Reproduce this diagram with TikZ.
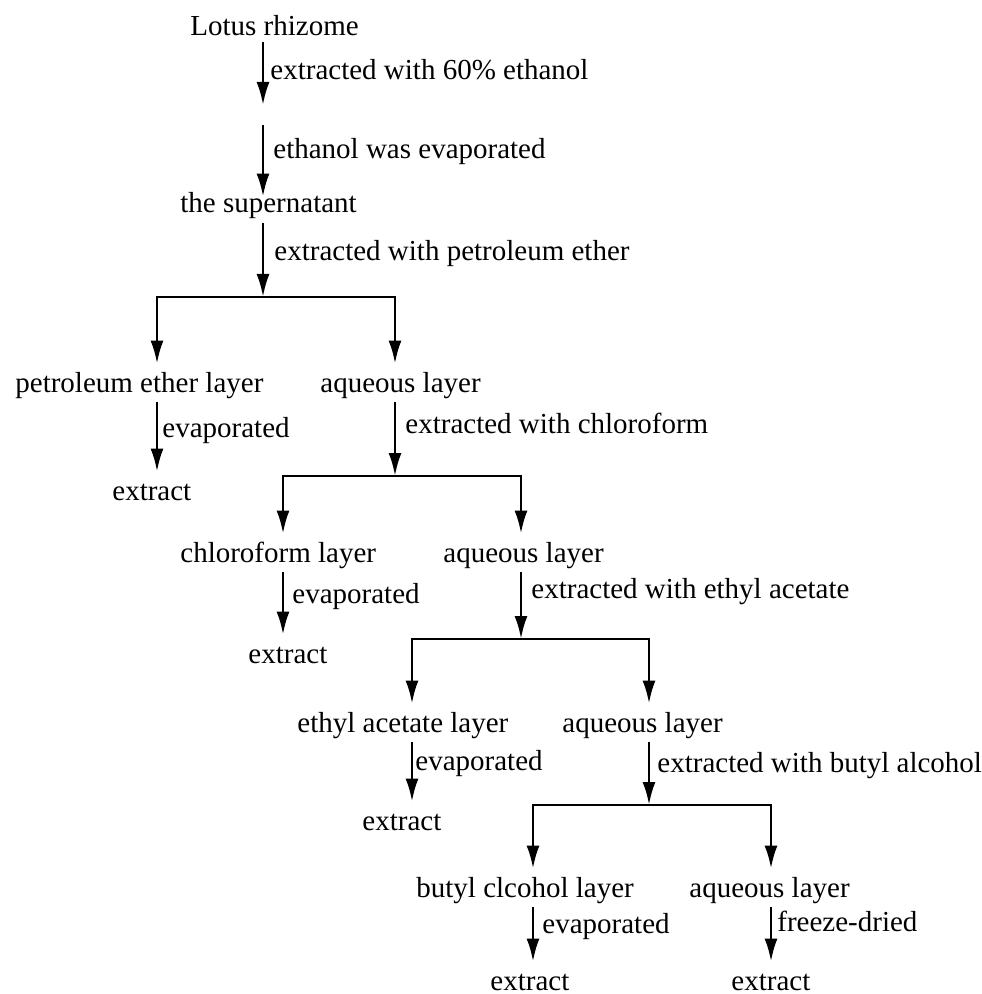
\documentclass[tikz,border=0pt]{standalone}
\usepackage{fontspec}
\setmainfont{Liberation Serif}
\usepackage{tikz}
\usetikzlibrary{positioning,arrows.meta,calc}

\begin{document}
\begin{tikzpicture}[x=0.5pt, y=-0.5pt,
   stage/.style={anchor=base west, inner xsep=0pt, inner ysep=0pt,
                 text height=14pt, text depth=5pt,
                 font=\fontsize{14.5pt}{17pt}\selectfont},
   op/.style={stage},
   flow/.style={draw, line width=1.35pt, -{Latex[length=11.5pt,width=6.5pt]}},
   >={Latex[length=11.5pt,width=6.5pt]}]
  \useasboundingbox (0,0) rectangle (981,994);
  % materials
  \node[stage] (lotus) at (190,36) {Lotus rhizome};
  \node[stage] (sup)   at (180,213) {the supernatant};
  \node[stage] (pel)   at (15,392)  {petroleum ether layer};
  \node[stage] (aq1)   at (320,392) {aqueous layer};
  \node[stage] (ext1)  at (112,500) {extract};
  \node[stage] (chl)   at (180,562) {chloroform layer};
  \node[stage] (aq2)   at (443,562) {aqueous layer};
  \node[stage] (ext2)  at (248,663) {extract};
  \node[stage] (eth)   at (297,732) {ethyl acetate layer};
  \node[stage] (aq3)   at (562,732) {aqueous layer};
  \node[stage] (ext3)  at (362,830) {extract};
  \node[stage] (but)   at (416,897) {butyl clcohol layer};
  \node[stage] (aq4)   at (689,897) {aqueous layer};
  \node[stage] (ext4)  at (490,990) {extract};
  \node[stage] (ext5)  at (731,990) {extract};
  % operations
  \node[op] (op1)  at (270,80)  {extracted with 60\% ethanol};
  \node[op] (op2)  at (273,159) {ethanol was evaporated};
  \node[op] (op3)  at (274,261) {extracted with petroleum ether};
  \node[op] (op4)  at (162,437) {evaporated};
  \node[op] (op5)  at (405,433) {extracted with chloroform};
  \node[op] (op6)  at (292,603) {evaporated};
  \node[op] (op7)  at (531,598) {extracted with ethyl acetate};
  \node[op] (op8)  at (415,770) {evaporated};
  \node[op] (op9)  at (657,772) {extracted with butyl alcohol};
  \node[op] (op10) at (542,933) {evaporated};
  \node[op] (op11) at (777,931) {freeze-dried};
  % split points
  \coordinate (conc) at (263,115);
  \coordinate (s1) at (263,297);
  \coordinate (s1l) at (157,297);
  \coordinate (s1r) at (395,297);
  \coordinate (s2) at (395,476);
  \coordinate (s2l) at (283,476);
  \coordinate (s2r) at (521,476);
  \coordinate (s3) at (521,639);
  \coordinate (s3l) at (412,639);
  \coordinate (s3r) at (649,639);
  \coordinate (s4) at (649,805);
  \coordinate (s4l) at (533,805);
  \coordinate (s4r) at (771,805);
  % top
  \draw[flow, shorten <=-2pt, shorten >=5pt] (lotus.south -| conc) -- (conc);
  \draw[flow, shorten <=5pt, shorten >=-6pt] (conc) -- (sup.north -| conc);
  \draw[flow] (sup.south -| s1) -- (s1);
  % petroleum ether
  \draw[flow] (s1) -| (s1l |- pel.north);
  \draw[flow] (s1) -| (s1r |- aq1.north);
  \draw[flow] (s1l |- pel.south) -- (s1l |- ext1.north);
  \draw[flow] (aq1.south -| s2) -- (s2);
  % chloroform
  \draw[flow] (s2) -| (s2l |- chl.north);
  \draw[flow] (s2) -| (s2r |- aq2.north);
  \draw[flow] (s2l |- chl.south) -- (s2l |- ext2.north);
  \draw[flow] (aq2.south -| s3) -- (s3);
  % ethyl acetate
  \draw[flow] (s3) -| (s3l |- eth.north);
  \draw[flow] (s3) -| (s3r |- aq3.north);
  \draw[flow] (s3l |- eth.south) -- (s3l |- ext3.north);
  \draw[flow] (aq3.south -| s4) -- (s4);
  % butyl alcohol
  \draw[flow] (s4) -| (s4l |- but.north);
  \draw[flow] (s4) -| (s4r |- aq4.north);
  \draw[flow] (s4l |- but.south) -- (s4l |- ext4.north);
  \draw[flow] (s4r |- aq4.south) -- (s4r |- ext5.north);
\end{tikzpicture}
\end{document}
